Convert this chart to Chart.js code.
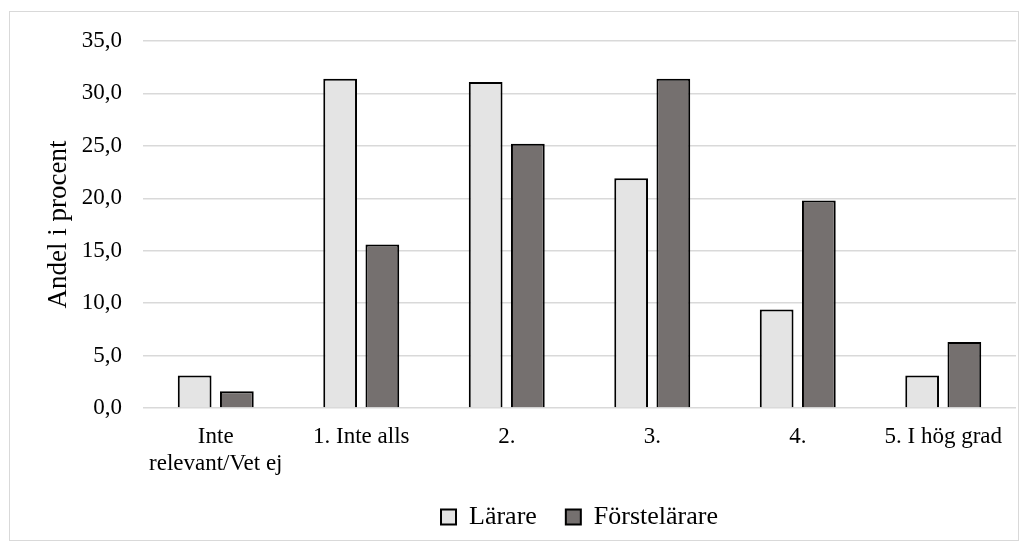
<!DOCTYPE html>
<html>
<head>
<meta charset="utf-8">
<script src="https://cdn.jsdelivr.net/npm/chart.js@4"></script>
<style>
  body { margin: 0; background: #fff; }
  .frame { position: absolute; left: 9px; top: 11px; width: 1010px; height: 530px; border: 1px solid #d9d9d9; box-sizing: border-box; }
  canvas { display: block; }
</style>
</head>
<body>
<div class="frame"><canvas id="myChart" width="1008" height="528"></canvas></div>
<script>
// data
const categories = [["Inte", "relevant/Vet ej"], "1. Inte alls", "2.", "3.", "4.", "5. I hög grad"];
const larare = [3.1, 31.4, 31.1, 21.9, 9.4, 3.1];
const forstelarare = [1.6, 15.6, 25.2, 31.4, 19.8, 6.3];
const seriesNames = ["Lärare", "Förstelärare"];

Chart.defaults.font.family = "'Liberation Serif', 'Times New Roman', serif";
Chart.defaults.color = "#000";

let ctx = document.getElementById("myChart").getContext("2d");
let dataChart = new Chart(ctx, {
  type: "bar",
  data: {
    labels: categories,
    datasets: [
      {
        label: seriesNames[0],
        data: larare,
        backgroundColor: "#e4e4e4",
        borderColor: "#000",
        borderWidth: 2,
        borderSkipped: "bottom",
      },
      {
        label: seriesNames[1],
        data: forstelarare,
        backgroundColor: "#75706f",
        borderColor: "#000",
        borderWidth: 2,
        borderSkipped: "bottom",
      },
    ],
  },
  options: {
    responsive: false,
    animation: false,
    categoryPercentage: 0.58,
    barPercentage: 0.8,
    layout: { padding: { left: 25, right: 2, top: 0, bottom: 0 } },
    scales: {
      x: {
        grid: { display: false },
        border: { display: false },
        ticks: { font: { size: 23 }, maxRotation: 0, padding: 7 },
        afterFit: (scale) => { scale.height = 67; },
      },
      y: {
        min: 0,
        max: 35,
        ticks: {
          stepSize: 5,
          font: { size: 23 },
          padding: 21,
          callback: (v) => v.toFixed(1).replace(".", ","),
        },
        grid: { color: "#d9d9d9", lineWidth: 1.5, drawTicks: false },
        border: { display: false },
        title: { display: true, text: "Andel i procent", font: { size: 27 }, padding: 8 },
        afterFit: (scale) => {
          scale.width = 108;
          scale.paddingTop = 29;
          scale.paddingBottom = 0;
        },
      },
    },
    plugins: {
      legend: {
        position: "bottom",
        fullSize: false,
        labels: {
          font: { size: 26 },
          boxWidth: 15,
          boxHeight: 15,
          padding: 29,
          useBorderRadius: false,
        },
      },
      tooltip: { enabled: false },
    },
  },
});
</script>
</body>
</html>
